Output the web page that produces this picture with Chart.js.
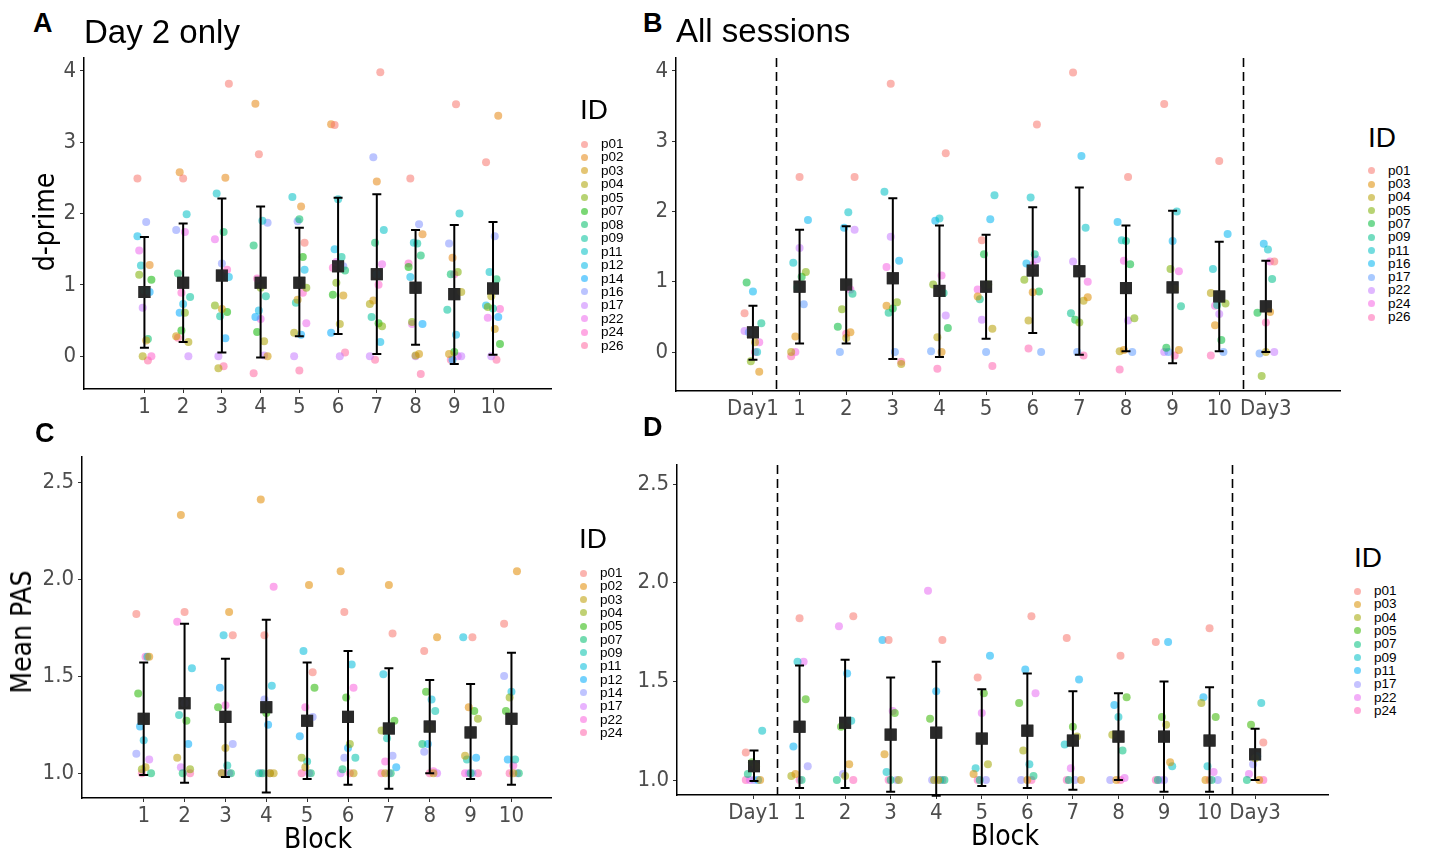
<!DOCTYPE html>
<html>
<head>
<meta charset="utf-8">
<script src="https://cdn.jsdelivr.net/npm/chart.js@4.4.1/dist/chart.umd.min.js"></script>
<style>
  body { margin: 0; background: #fff; width: 1431px; height: 856px; position: relative; overflow: hidden;
         font-family: "Liberation Sans", Arial, sans-serif; }
  canvas { position: absolute; }
  .lab { position: absolute; white-space: nowrap; line-height: 1; color: #000; }
  .tag { font-weight: bold; font-size: 27px; }
  .ttl { font-size: 33px; }
  .axt { font-family: "Liberation Sans Narrow", "DejaVu Sans Condensed", sans-serif; font-size: 28px;
         transform: translate(-50%, -50%); }
  .rot { transform: translate(-50%, -50%) rotate(-90deg); }
  .dot { position: absolute; width: 7px; height: 7px; border-radius: 50%; }
  .item { position: absolute; font-size: 13.5px; line-height: 14px; white-space: nowrap; color: #000; }
</style>
</head>
<body>
<canvas id="cA"></canvas>
<canvas id="cB"></canvas>
<canvas id="cC"></canvas>
<canvas id="cD"></canvas>

<div class="lab tag" style="left:33px;top:10px">A</div>
<div class="lab ttl" style="left:84px;top:15px">Day 2 only</div>
<div class="lab tag" style="left:643px;top:10px">B</div>
<div class="lab ttl" style="left:676px;top:14px">All sessions</div>
<div class="lab tag" style="left:35px;top:420px">C</div>
<div class="lab tag" style="left:643px;top:414px">D</div>

<div class="lab axt rot" style="left:45px;top:222px">d-prime</div>
<div class="lab axt rot" style="left:22px;top:632px">Mean PAS</div>
<div class="lab axt" style="left:318px;top:839px">Block</div>
<div class="lab axt" style="left:1005px;top:836px">Block</div>

<script>
// ---- data ----
const blockLabels = ['1', '2', '3', '4', '5', '6', '7', '8', '9', '10'];
const sessionLabels = ['Day1', '1', '2', '3', '4', '5', '6', '7', '8', '9', '10', 'Day3'];

const idsA = ['p01', 'p02', 'p03', 'p04', 'p05', 'p07', 'p08', 'p09', 'p11', 'p12', 'p14', 'p16', 'p17', 'p22', 'p24', 'p26'];
const idsB = ['p01', 'p03', 'p04', 'p05', 'p07', 'p09', 'p11', 'p16', 'p17', 'p22', 'p24', 'p26'];
const idsC = ['p01', 'p02', 'p03', 'p04', 'p05', 'p07', 'p09', 'p11', 'p12', 'p14', 'p17', 'p22', 'p24'];
const idsD = ['p01', 'p03', 'p04', 'p05', 'p07', 'p09', 'p11', 'p17', 'p22', 'p24'];

// d-prime, day 2, blocks 1-10, one row per participant in idsA
const dprimeDay2 = [
  [2.49, 2.49, 3.82, 2.83, 1.59, 3.24, 3.98, 2.49, 3.53, 2.72],
  [1.28, 2.58, 2.50, 3.54, 2.10, 3.25, 2.45, 1.71, 1.38, 3.37],
  [0.22, 0.28, 0.66, 0.00, 0.79, 0.85, 0.78, 0.03, 0.03, 0.38],
  [0.00, 0.20, -0.17, 0.21, 0.33, 0.45, 0.73, 0.01, 0.90, 0.84],
  [1.14, 0.61, 0.71, 0.96, 0.96, 1.03, 0.42, 0.48, 1.18, 0.69],
  [1.07, 0.36, 0.62, 0.34, 1.39, 0.86, 0.46, 1.25, 0.06, 0.17],
  [0.24, 1.16, 1.74, 1.55, 1.92, 1.20, 1.59, 1.41, 1.15, 1.08],
  [0.92, 0.83, 0.56, 0.84, 0.75, 1.39, 0.55, 1.58, 0.65, 0.67],
  [1.27, 1.99, 2.28, 1.90, 2.23, 2.20, 1.77, 1.59, 2.00, 1.18],
  [1.68, 0.73, 1.11, 0.64, 1.21, 1.50, 0.20, 1.11, 0.30, 0.71],
  [0.90, 0.61, 0.25, 0.55, 0.30, 0.33, 1.15, 0.45, -0.05, 0.55],
  [1.88, 1.77, 1.30, 1.87, 1.89, 1.26, 2.79, 1.85, 1.58, 1.68],
  [0.68, 0.00, 0.00, 0.01, 0.00, 0.00, 0.00, 0.00, 0.00, 0.00],
  [1.48, 1.74, 1.64, 0.52, 0.46, 1.32, 1.29, 0.45, 0.00, 0.54],
  [0.00, 0.89, 1.21, 1.09, 0.89, 1.24, 1.00, 1.30, 1.15, 0.66],
  [-0.06, 0.26, -0.14, -0.24, -0.20, 0.05, -0.05, -0.25, -0.05, -0.05]
];
// d-prime on day 1 and day 3, in idsB order
const dprimeDay1 = [0.55, -0.28, 0.14, -0.13, 0.99, 0.41, 0.00, 0.86, 0.28, 0.30, 0.14, 0.00];
const dprimeDay3 = [1.29, 0.57, 0.00, -0.34, 0.56, 1.04, 1.46, 1.54, -0.02, 0.00, 1.29, 0.42];

const meanA = [0.90, 1.03, 1.13, 1.03, 1.03, 1.26, 1.15, 0.96, 0.87, 0.95];
const hiA   = [1.67, 1.86, 2.21, 2.10, 1.80, 2.22, 2.27, 1.77, 1.84, 1.88];
const loA   = [0.12, 0.20, 0.05, -0.02, 0.28, 0.31, 0.03, 0.16, -0.11, 0.02];

const meanB = [0.28, 0.93, 0.96, 1.05, 0.87, 0.93, 1.16, 1.15, 0.91, 0.92, 0.79, 0.65];
const hiB   = [0.66, 1.74, 1.79, 2.19, 1.80, 1.67, 2.06, 2.34, 1.80, 2.01, 1.57, 1.30];
const loB   = [-0.11, 0.12, 0.12, -0.10, -0.07, 0.19, 0.27, -0.04, 0.01, -0.16, 0.01, 0.00];

// mean PAS, day 2, blocks 1-10, one row per participant in idsC
const pasDay2 = [
  [1.82, 1.83, 1.71, 1.71, 1.52, 1.83, 1.72, 1.63, 1.70, 1.77],
  [1.60, 2.33, 1.83, 2.41, 1.97, 2.04, 1.97, 1.70, 1.34, 2.04],
  [1.03, 1.08, 1.13, 1.00, 1.03, 1.00, 1.00, 1.00, 1.09, 1.00],
  [1.02, 1.02, 1.00, 1.00, 1.08, 1.15, 1.22, 1.23, 1.28, 1.39],
  [1.41, 1.27, 1.34, 1.31, 1.44, 1.39, 1.27, 1.42, 1.32, 1.32],
  [1.00, 1.00, 1.00, 1.00, 1.00, 1.02, 1.00, 1.15, 1.00, 1.00],
  [1.60, 1.30, 1.04, 1.00, 1.06, 1.08, 1.18, 1.32, 1.07, 1.07],
  [1.17, 1.54, 1.71, 1.45, 1.63, 1.56, 1.51, 1.38, 1.70, 1.42],
  [1.24, 1.15, 1.44, 1.25, 1.19, 1.13, 1.03, 1.15, 1.08, 1.07],
  [1.10, 1.36, 1.15, 1.38, 1.29, 1.08, 1.09, 1.11, 1.00, 1.50],
  [1.07, 1.03, 1.00, 1.00, 1.00, 1.00, 1.00, 1.00, 1.00, 1.00],
  [1.60, 1.78, 1.35, 1.96, 1.34, 1.44, 1.06, 1.01, 1.00, 1.04],
  [1.00, 1.00, 1.00, 1.00, 1.00, 1.00, 1.00, 1.00, 1.00, 1.00]
];
// mean PAS on day 1 and day 3, in idsD order
const pasDay1 = [1.14, 1.00, 1.07, 1.09, 1.03, 1.25, 1.00, 1.00, 1.00, 1.00];
const pasDay3 = [1.19, 1.00, 1.11, 1.28, 1.00, 1.39, 1.12, 1.08, 1.03, 1.00];

const meanC = [1.28, 1.36, 1.29, 1.34, 1.27, 1.29, 1.23, 1.24, 1.21, 1.28];
const hiC   = [1.57, 1.77, 1.59, 1.79, 1.57, 1.63, 1.54, 1.48, 1.46, 1.62];
const loC   = [0.99, 0.95, 0.98, 0.90, 0.97, 0.94, 0.92, 1.00, 0.97, 0.94];

const meanD = [1.07, 1.27, 1.29, 1.23, 1.24, 1.21, 1.25, 1.20, 1.22, 1.22, 1.20, 1.13];
const hiD   = [1.15, 1.58, 1.61, 1.52, 1.60, 1.46, 1.54, 1.45, 1.44, 1.50, 1.47, 1.26];
const loD   = [0.995, 0.96, 0.96, 0.94, 0.92, 0.97, 0.96, 0.95, 1.00, 0.94, 0.94, 1.00];

const dprimeTicks = [0, 1, 2, 3, 4];
const pasTicks = [1.0, 1.5, 2.0, 2.5];

// ---- helpers ----
// ggplot default hue palette (hcl, c=100, l=65)
function hueColors(n) {
  const out = [];
  const Xn = 95.047, Yn = 100, Zn = 108.883;
  const un = 4 * Xn / (Xn + 15 * Yn + 3 * Zn), vn = 9 * Yn / (Xn + 15 * Yn + 3 * Zn);
  for (let k = 0; k < n; k++) {
    const h = (15 + 360 * k / n) * Math.PI / 180;
    const L = 65, C = 100;
    const Y = Yn * Math.pow((L + 16) / 116, 3);
    const u = C * Math.cos(h) / (13 * L) + un, v = C * Math.sin(h) / (13 * L) + vn;
    const X = 9 * Y * u / (4 * v), Z = -X / 3 - 5 * Y + 3 * Y / v;
    const lin = [3.240479 * X - 1.53715 * Y - 0.498535 * Z,
                 -0.969256 * X + 1.875992 * Y + 0.041556 * Z,
                 0.055648 * X - 0.204043 * Y + 1.057311 * Z];
    out.push(lin.map(c => {
      c /= 100;
      const g = c <= 0.0031308 ? 12.92 * c : 1.055 * Math.pow(c, 1 / 2.4) - 0.055;
      return Math.round(255 * Math.min(1, Math.max(0, g)));
    }));
  }
  return out;
}
const rgba = (c, a) => `rgba(${c[0]},${c[1]},${c[2]},${a})`;

// fixed horizontal spread so points of one block don't sit on top of each other
const jitter = (i, j) => (((j * 7 + i * 4) % 9) - 4) * 0.045;

const tickFont = { family: '"Liberation Sans Narrow", "DejaVu Sans Condensed", sans-serif', size: 22 };

const errorBars = {
  id: 'errorBars',
  beforeDatasetsDraw(chart, args, opts) {
    const { ctx, chartArea, scales: { x } } = chart;
    ctx.save();
    ctx.strokeStyle = '#000';
    ctx.lineWidth = 1.6;
    ctx.setLineDash([9, 5]);
    (opts.dashes || []).forEach(v => {
      const px = Math.round(x.getPixelForValue(v)) + 0.5;
      ctx.beginPath();
      ctx.moveTo(px, chartArea.top);
      ctx.lineTo(px, chartArea.bottom);
      ctx.stroke();
    });
    ctx.restore();
  },
  afterDatasetsDraw(chart, args, opts) {
    const { ctx, scales: { x, y } } = chart;
    ctx.save();
    ctx.strokeStyle = '#000';
    ctx.lineWidth = 2;
    opts.lo.forEach((lo, i) => {
      const px = x.getPixelForValue(i + 1);
      const y0 = y.getPixelForValue(lo), y1 = y.getPixelForValue(opts.hi[i]);
      ctx.beginPath();
      ctx.moveTo(px, y0); ctx.lineTo(px, y1);
      ctx.moveTo(px - 4.5, y0); ctx.lineTo(px + 4.5, y0);
      ctx.moveTo(px - 4.5, y1); ctx.lineTo(px + 4.5, y1);
      ctx.stroke();
    });
    ctx.restore();
    // mean squares on top
    const meta = chart.getDatasetMeta(chart.data.datasets.length - 1);
    meta.data.forEach(el => el.draw(ctx, chart.chartArea));
  }
};

function buildPanel(p) {
  const cv = document.getElementById(p.id);
  const c = p.canvas, a = p.area;
  cv.width = c.w; cv.height = c.h;
  cv.style.left = c.l + 'px'; cv.style.top = c.t + 'px';
  const yW = a.l - c.l, xH = c.t + c.h - a.b;
  const cols = hueColors(p.ids.length);

  const datasets = p.ids.map((id, j) => ({
    label: id,
    data: p.values[j].map((v, i) => ({ x: i + 1 + jitter(i, j), y: v })),
    backgroundColor: rgba(cols[j], 0.55),
    borderWidth: 0,
    pointRadius: 4
  }));
  datasets.push({
    label: 'mean',
    data: p.mean.map((v, i) => ({ x: i + 1, y: v })),
    pointStyle: 'rect',
    pointRadius: 8.5,
    backgroundColor: 'rgba(40,40,40,0.92)',
    borderWidth: 0
  });

  new Chart(cv, {
    type: 'scatter',
    data: { datasets },
    plugins: [errorBars],
    options: {
      responsive: false,
      animation: false,
      devicePixelRatio: 1,
      events: [],
      layout: { padding: { left: 0, top: a.t - c.t, right: c.l + c.w - a.r, bottom: 0 } },
      plugins: {
        legend: { display: false },
        tooltip: { enabled: false },
        errorBars: { lo: p.lo, hi: p.hi, dashes: p.dashes }
      },
      scales: {
        x: {
          type: 'linear', min: p.xMin, max: p.xMax,
          afterBuildTicks: s => { s.ticks = p.cats.map((_, i) => ({ value: i + 1 })); },
          afterFit: s => { s.height = xH; },
          ticks: { callback: v => p.cats[v - 1], font: tickFont, color: '#4d4d4d',
                   padding: 1, autoSkip: false, maxRotation: 0 },
          grid: { drawOnChartArea: false, drawTicks: true, tickLength: 4, color: '#333' },
          border: { color: '#000', width: 1.5 }
        },
        y: {
          type: 'linear', min: p.yMin, max: p.yMax,
          afterBuildTicks: s => { s.ticks = p.yTicks.map(v => ({ value: v })); },
          afterFit: s => { s.width = yW; },
          ticks: { callback: v => v.toFixed(p.yDec), font: tickFont, color: '#4d4d4d', padding: 4 },
          grid: { drawOnChartArea: false, drawTicks: true, tickLength: 4, color: '#333' },
          border: { color: '#000', width: 1.5 }
        }
      }
    }
  });
}

function buildLegend(ids, pos) {
  const cols = hueColors(ids.length);
  const t = document.createElement('div');
  t.className = 'lab';
  t.style.cssText = `left:${pos.x}px;top:${pos.ty - 14}px;font-size:28px;line-height:28px`;
  t.textContent = 'ID';
  document.body.appendChild(t);
  ids.forEach((id, k) => {
    const cy = pos.y0 + k * pos.step;
    const d = document.createElement('div');
    d.className = 'dot';
    d.style.cssText = `left:${pos.dx - 3.5}px;top:${cy - 3.5}px;background:${rgba(cols[k], 0.55)}`;
    document.body.appendChild(d);
    const s = document.createElement('div');
    s.className = 'item';
    s.style.cssText = `left:${pos.tx}px;top:${cy - 7}px`;
    s.textContent = id;
    document.body.appendChild(s);
  });
}

// rows for the all-sessions panels come from the day 2 tables
const rowsB = idsB.map((id, j) => [dprimeDay1[j], ...dprimeDay2[idsA.indexOf(id)], dprimeDay3[j]]);
const rowsD = idsD.map((id, j) => [pasDay1[j], ...pasDay2[idsC.indexOf(id)], pasDay3[j]]);

buildPanel({ id: 'cA', canvas: { l: 0, t: 40, w: 560, h: 390 }, area: { l: 84, t: 58, r: 555, b: 389 },
  cats: blockLabels, ids: idsA, values: dprimeDay2, mean: meanA, lo: loA, hi: hiA,
  xMin: -0.56, xMax: 11.51, yMin: -0.46, yMax: 4.18, yTicks: dprimeTicks, yDec: 0, dashes: [] });
buildPanel({ id: 'cB', canvas: { l: 600, t: 40, w: 750, h: 390 }, area: { l: 676, t: 58, r: 1340, b: 391 },
  cats: sessionLabels, ids: idsB, values: rowsB, mean: meanB, lo: loB, hi: hiB,
  xMin: -0.65, xMax: 13.59, yMin: -0.555, yMax: 4.185, yTicks: dprimeTicks, yDec: 0, dashes: [1.5, 11.5] });
buildPanel({ id: 'cC', canvas: { l: 0, t: 440, w: 560, h: 400 }, area: { l: 82, t: 456, r: 553, b: 798 },
  cats: blockLabels, ids: idsC, values: pasDay2, mean: meanC, lo: loC, hi: hiC,
  xMin: -0.51, xMax: 10.98, yMin: 0.872, yMax: 2.628, yTicks: pasTicks, yDec: 1, dashes: [] });
buildPanel({ id: 'cD', canvas: { l: 600, t: 440, w: 740, h: 400 }, area: { l: 677, t: 465, r: 1328, b: 795 },
  cats: sessionLabels, ids: idsD, values: rowsD, mean: meanD, lo: loD, hi: hiD,
  xMin: -0.69, xMax: 13.6, yMin: 0.924, yMax: 2.597, yTicks: pasTicks, yDec: 1, dashes: [1.5, 11.5] });

buildLegend(idsA, { x: 580, ty: 110, y0: 144, step: 13.45, dx: 584, tx: 601 });
buildLegend(idsB, { x: 1368, ty: 138, y0: 170.7, step: 13.3, dx: 1371, tx: 1388 });
buildLegend(idsC, { x: 579, ty: 539, y0: 573, step: 13.33, dx: 583, tx: 600 });
buildLegend(idsD, { x: 1354, ty: 558, y0: 591, step: 13.33, dx: 1357, tx: 1374 });
</script>
</body>
</html>
